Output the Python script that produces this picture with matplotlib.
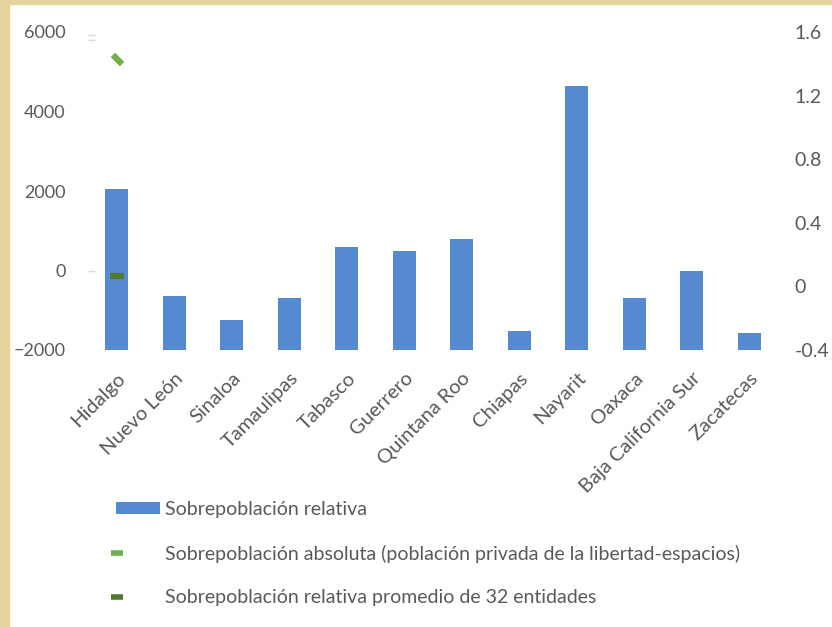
import numpy as np
import matplotlib.pyplot as plt
from matplotlib.patches import Patch
from matplotlib.lines import Line2D
from matplotlib.legend_handler import HandlerLine2D

plt.rcParams['font.family'] = ['Lato', 'DejaVu Sans']

# entidades y valores
entidades = ["Hidalgo", "Nuevo León", "Sinaloa", "Tamaulipas", "Tabasco", "Guerrero",
             "Quintana Roo", "Chiapas", "Nayarit", "Oaxaca", "Baja California Sur", "Zacatecas"]
sobrepob_relativa = [0.61, -0.06, -0.21, -0.07, 0.25, 0.22, 0.30, -0.28, 1.26, -0.07, 0.10, -0.29]
sobrepob_absoluta = [5330]      # solo Hidalgo
promedio_32 = [0.065]          # promedio nacional, marcado en Hidalgo

gris = "#595959"
azul = "#5589D0"
verde_claro = "#70B04A"
verde_oscuro = "#4E7A31"


class MarcadorIzq(HandlerLine2D):
    # el marcador va al inicio del espacio de la leyenda, no al centro
    def get_xdata(self, legend, xdescent, ydescent, width, height, fontsize):
        xd = np.array([-xdescent - 0.05 * width, -xdescent + 0.1 * width])
        return xd, xd


fig = plt.figure(figsize=(8.32, 6.27), dpi=100)
ax = fig.add_axes([88 / 832, 1 - 350 / 627, 690 / 832, 318 / 627])
ax2 = ax.twinx()

x = np.arange(len(entidades))
base = -0.4
ax2.bar(x, np.array(sobrepob_relativa) - base, bottom=base, width=0.4, color=azul, zorder=2)
ax2.plot(x[:1], promedio_32, ls="none", marker="_", ms=10, mew=4.5,
         color=verde_oscuro, zorder=3)
ax.plot(x[:1], sobrepob_absoluta, ls="none", marker=(2, 2, 45), ms=9, mew=4,
        color=verde_claro, zorder=3)

ax.set_xlim(-0.5, len(entidades) - 0.5)
ax.set_ylim(-2000, 6000)
ax.set_yticks([-2000, 0, 2000, 4000, 6000])
ax.yaxis.remove_overlapping_locs = False
ax.set_yticks([0, 5800, 5920], minor=True)
ax2.set_ylim(-0.4, 1.6)
ax2.set_yticks([-0.4, 0, 0.4, 0.8, 1.2, 1.6])
ax2.set_yticklabels(["-0.4", "0", "0.4", "0.8", "1.2", "1.6"])

ax.set_xticks(x)
ax.set_xticklabels(entidades, rotation=45, ha="right", rotation_mode="anchor")

for a in (ax, ax2):
    for s in a.spines.values():
        s.set_visible(False)
    a.tick_params(length=0, colors=gris, labelsize=14)
ax.tick_params(axis="y", which="minor", length=5, width=1, color="#D9D9D9", direction="in")
ax.tick_params(axis="y", pad=16, labelsize=13)
ax.tick_params(axis="x", pad=14, labelsize=14.5)
ax2.tick_params(axis="y", pad=12)
ax.set_zorder(ax2.get_zorder() + 1)
ax.patch.set_visible(False)

# marco de color en los bordes
fig.patches.append(plt.Rectangle((0, 0), 9 / 832, 1, transform=fig.transFigure,
                                 color="#E6D39C", zorder=0))
fig.patches.append(plt.Rectangle((0, 1 - 4 / 627), 1, 4 / 627, transform=fig.transFigure,
                                 color="#E6D39C", zorder=0))

h_barra = Patch(facecolor=azul)
h_abs = Line2D([], [], ls="none", marker="_", ms=8, mew=4, color=verde_claro)
h_prom = Line2D([], [], ls="none", marker="_", ms=8, mew=4, color=verde_oscuro)
leg = fig.legend([h_barra, h_abs, h_prom],
                 ["Sobrepoblación relativa",
                  "Sobrepoblación absoluta (población privada de la libertad-espacios)",
                  "Sobrepoblación relativa promedio de 32 entidades"],
                 loc="upper left", bbox_to_anchor=(106 / 832, 1 - 491 / 627),
                 frameon=False, fontsize=14, labelcolor=gris,
                 handlelength=2.3, handleheight=0.55, handletextpad=0.25,
                 labelspacing=1.38, borderpad=0,
                 handler_map={Line2D: MarcadorIzq()})

fig.savefig("out.png", dpi=100)
